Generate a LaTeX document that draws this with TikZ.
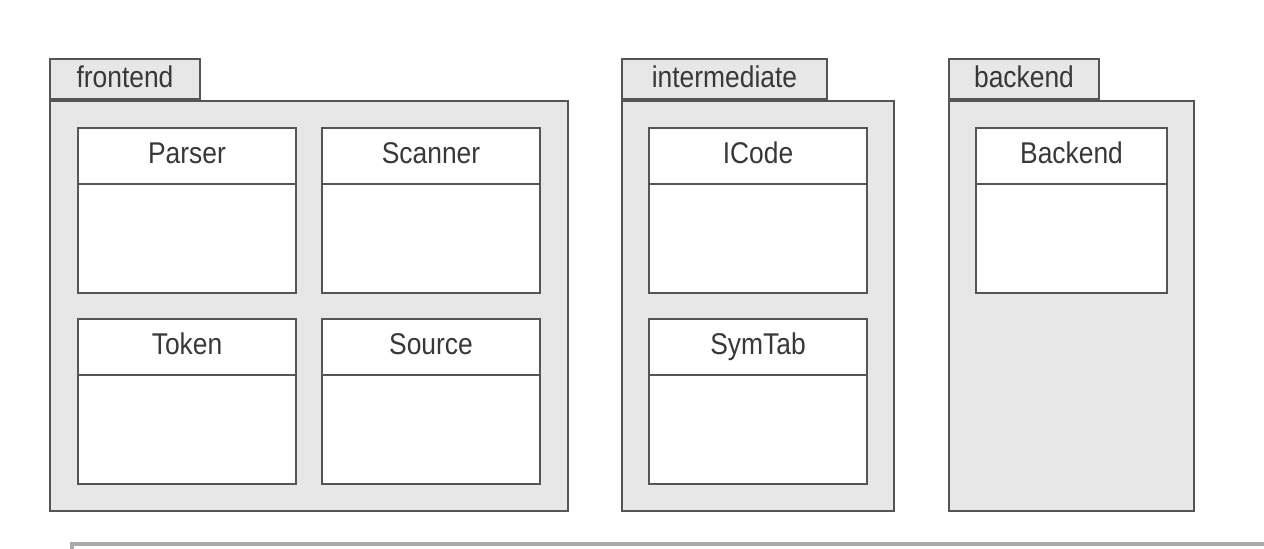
\documentclass[tikz,border=0pt]{standalone}
\usepackage{fontspec}
\setmainfont{Liberation Sans}[FakeStretch=0.88]
\definecolor{pkgfill}{RGB}{231,231,231}
\definecolor{edge}{RGB}{85,85,85}
\definecolor{rulegray}{RGB}{170,170,170}
\begin{document}
\begin{tikzpicture}[x=0.5pt, y=-0.5pt,
    every node/.style={font=\fontsize{15}{17}\selectfont, text=black!78},
    tab/.style={draw=edge, fill=pkgfill, line width=1pt, anchor=south west,
      minimum height=20pt, inner sep=0pt, text height=11pt, text depth=3pt},
    pkg/.style={draw=edge, fill=pkgfill, line width=1pt, anchor=north west,
      minimum height=205pt, inner sep=0pt},
    cls/.style={draw=edge, fill=white, line width=1pt, anchor=north west,
      minimum width=109pt, minimum height=82.5pt, inner sep=0pt},
    head/.style={anchor=north, minimum width=109pt, minimum height=28pt, inner sep=0pt,
      text height=11pt, text depth=3pt}]
  \useasboundingbox (0,0) rectangle (1264,548);

  % packages
  \node[tab, minimum width=75pt] (fronttab) at (49,100) {frontend};
  \node[pkg, minimum width=259pt] (front) at (49,100) {};
  \node[tab, minimum width=102.5pt] (midtab) at (621,100) {intermediate};
  \node[pkg, minimum width=136pt] (mid) at (621,100) {};
  \node[tab, minimum width=75pt] (backtab) at (948,100) {backend};
  \node[pkg, minimum width=122.5pt] (back) at (948,100) {};

  % classes
  \node[cls] (parser) at (77,127) {};
  \node[head] (parserhead) at (parser.north) {Parser};
  \draw[edge, line width=1pt] (parserhead.south west) -- (parserhead.south east);

  \node[cls] (scanner) at (321,127) {};
  \node[head] (scannerhead) at (scanner.north) {Scanner};
  \draw[edge, line width=1pt] (scannerhead.south west) -- (scannerhead.south east);

  \node[cls] (token) at (77,318) {};
  \node[head] (tokenhead) at (token.north) {Token};
  \draw[edge, line width=1pt] (tokenhead.south west) -- (tokenhead.south east);

  \node[cls] (source) at (321,318) {};
  \node[head] (sourcehead) at (source.north) {Source};
  \draw[edge, line width=1pt] (sourcehead.south west) -- (sourcehead.south east);

  \node[cls] (icode) at (648,127) {};
  \node[head] (icodehead) at (icode.north) {ICode};
  \draw[edge, line width=1pt] (icodehead.south west) -- (icodehead.south east);

  \node[cls] (symtab) at (648,318) {};
  \node[head] (symtabhead) at (symtab.north) {SymTab};
  \draw[edge, line width=1pt] (symtabhead.south west) -- (symtabhead.south east);

  \node[cls, minimum width=95.5pt] (backend) at (975,127) {};
  \node[head, minimum width=95.5pt] (backendhead) at (backend.north) {Backend};
  \draw[edge, line width=1pt] (backendhead.south west) -- (backendhead.south east);

  % rule at the bottom
  \clip (0,0) rectangle (1264,548);
  \draw[rulegray, line width=2pt] (72,600) -- (72,544) -- (1300,544);
\end{tikzpicture}
\end{document}
